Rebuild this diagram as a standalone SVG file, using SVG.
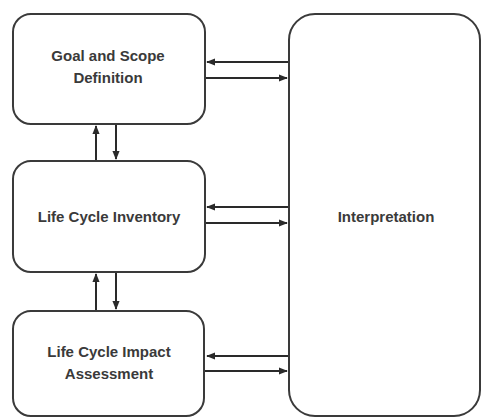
<svg xmlns="http://www.w3.org/2000/svg" width="482" height="418" viewBox="0 0 482 418">
<style>
.box{fill:#fff;stroke:#3a3a3a;stroke-width:2}
.lbl{font-family:"Liberation Sans",Arial,sans-serif;font-weight:bold;font-size:15px;fill:#3a3a3a;text-anchor:middle}
.con{stroke:#2a2a2a;stroke-width:2;fill:none;marker-end:url(#ah)}
</style>
<defs>
<marker id="ah" viewBox="0 0 10 10" refX="9" refY="5" markerWidth="4.5" markerHeight="4.5" orient="auto" markerUnits="strokeWidth">
<path d="M0,1 L10,5 L0,9 z" fill="#2a2a2a"/>
</marker>
</defs>
<rect width="482" height="418" fill="#fff"/>
<g id="connectors">
<line class="con" x1="289" y1="62" x2="207" y2="62"/>
<line class="con" x1="205" y1="78" x2="287" y2="78"/>
<line class="con" x1="289" y1="207" x2="207" y2="207"/>
<line class="con" x1="205" y1="223" x2="287" y2="223"/>
<line class="con" x1="289" y1="356" x2="207" y2="356"/>
<line class="con" x1="205" y1="371" x2="287" y2="371"/>
<line class="con" x1="96" y1="161" x2="96" y2="126"/>
<line class="con" x1="116" y1="124" x2="116" y2="159"/>
<line class="con" x1="96" y1="311" x2="96" y2="274"/>
<line class="con" x1="116" y1="272" x2="116" y2="309"/>
</g>
<g id="goal">
<rect class="box" x="13" y="14" width="192" height="110" rx="18"/>
<text class="lbl" x="108" y="61">Goal and Scope</text>
<text class="lbl" x="108" y="83">Definition</text>
</g>
<g id="lci">
<rect class="box" x="13" y="161" width="192" height="111" rx="18"/>
<text class="lbl" x="109" y="222">Life Cycle Inventory</text>
</g>
<g id="lcia">
<rect class="box" x="13" y="311" width="191" height="105" rx="18"/>
<text class="lbl" x="109" y="357">Life Cycle Impact</text>
<text class="lbl" x="109" y="379">Assessment</text>
</g>
<g id="interp">
<rect class="box" x="289" y="14" width="191" height="402" rx="26"/>
<text class="lbl" x="386" y="222">Interpretation</text>
</g>
</svg>
